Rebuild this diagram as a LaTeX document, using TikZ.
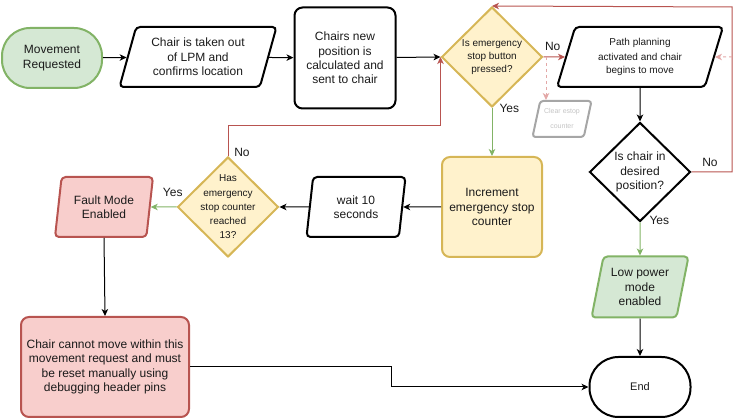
\documentclass[tikz,border=0pt]{standalone}
\usepackage{fontspec}
\setmainfont{Liberation Sans}
\usetikzlibrary{shapes.geometric,arrows.meta}
\definecolor{gfill}{HTML}{D5E8D4}
\definecolor{gline}{HTML}{82B366}
\definecolor{yfill}{HTML}{FFF2CC}
\definecolor{yline}{HTML}{D6B656}
\definecolor{rfill}{HTML}{F8CECC}
\definecolor{rline}{HTML}{B85450}
\definecolor{dline}{HTML}{E3A8A7}
\definecolor{cline}{HTML}{A6A6A6}
\definecolor{ctext}{HTML}{C4C4C4}
\definecolor{txt}{HTML}{1A1A1A}
\newcommand{\ftA}{\fontsize{12}{14.3}\selectfont}
\newcommand{\ftB}{\fontsize{10}{13}\selectfont}
\newcommand{\ftC}{\fontsize{10}{14.3}\selectfont}
\newcommand{\ftD}{\fontsize{7}{15}\selectfont}
\newcommand{\ftE}{\fontsize{11}{14}\selectfont}
\tikzset{
  shp/.style={draw, line width=2pt, align=center, inner sep=0pt, text=txt, font=\ftA},
  term/.style={shp, rounded corners=28pt, minimum height=60pt},
  proc/.style={shp, rounded corners=8pt},
  dec/.style={shp, diamond, minimum width=101pt, minimum height=100pt},
  para/.style={shp, trapezium, trapezium stretches body=true, rounded corners=4pt},
  conn/.style={line width=1pt, -{Stealth[length=7pt,width=6.5pt,inset=2pt]}},
  dconn/.style={conn, dline, dash pattern=on 3pt off 3pt},
  lbl/.style={font=\ftA, text=txt, inner sep=0pt}
}
\begin{document}
\begin{tikzpicture}[x=1pt,y=-1pt]
\useasboundingbox (0,0) rectangle (740,419);

% nodes
\node[term, fill=gfill, draw=gline, minimum width=100pt] (mr) at (52,58) {Movement\\Requested};
\node[para, trapezium left angle=66, trapezium right angle=114, minimum width=157pt, minimum height=60pt] (co) at (198,57) {Chair is taken out\\of LPM and\\confirms location};
\node[proc, minimum width=101pt, minimum height=101pt] (calc) at (345,58) {Chairs new\\position is\\calculated and\\sent to chair};
\node[dec, fill=yfill, draw=yline, label={[font=\ftB, align=center, text=txt]center:Is emergency\\stop button\\pressed?}] (d1) at (492,57) {};
\node[para, trapezium left angle=64, trapezium right angle=116, minimum width=166pt, minimum height=60pt, font=\ftB] (pp) at (640,57) {Path planning\\[2pt]activated and chair\\begins to move};
\node[para, draw=cline, text=ctext, font=\ftD, trapezium left angle=69, trapezium right angle=111, minimum width=59pt, minimum height=36pt, rounded corners=3pt] (clr) at (562,119) {Clear estop\\counter};
\node[dec, minimum height=99pt] (d2) at (640,172) {Is chair in\\desired\\position?};
\node[para, fill=gfill, draw=gline, trapezium left angle=72, trapezium right angle=108, minimum width=97pt, minimum height=61pt] (lp) at (640,287) {Low power\\mode\\enabled};
\node[term, minimum width=101pt, rounded corners=29pt, font=\ftE] (end) at (640,387) {End};
\node[proc, fill=yfill, draw=yline, minimum width=100pt, minimum height=100pt] (inc) at (492,207) {Increment\\emergency stop\\counter};
\node[para, trapezium left angle=74, trapezium right angle=106, minimum width=99pt, minimum height=60pt] (wait) at (356,207) {wait 10\\seconds};
\node[dec, fill=yfill, draw=yline, minimum width=101pt, label={[font=\ftC, align=center, text=txt]center:Has\\emergency\\stop counter\\reached\\13?}] (d3) at (228,207) {};
\node[para, fill=rfill, draw=rline, trapezium left angle=74, trapezium right angle=106, minimum width=98pt, minimum height=60pt] (fault) at (104,207) {Fault Mode\\Enabled};
\node[proc, fill=rfill, draw=rline, minimum width=168pt, minimum height=100pt, font=\ftA] (cm) at (105,367) {Chair cannot move within this\\movement request and must\\be reset manually using\\debugging header pins};

% helper coordinates
\coordinate (loop) at (732,7);
\coordinate (dstart) at (546,57);
\coordinate (dright) at (732,57);

% connectors
\draw[conn] (mr) -- (co);
\draw[conn] (co) -- (calc);
\draw[conn] (calc) -- (d1.west);
\draw[conn, rline] (d1.east) -- (pp.west) node[lbl, at start, anchor=south west, xshift=1pt, yshift=6pt] {No};
\draw[conn, gline] (d1.south) -- (inc.north) node[lbl, at start, anchor=north west, xshift=7pt, yshift=4pt] {Yes};
\draw[conn] (inc.west) -- (wait.east);
\draw[conn] (wait.west) -- (d3.east);
\draw[conn, gline] (d3.west) -- (fault.east) node[lbl, at start, anchor=south east, xshift=6.5pt, yshift=10pt] {Yes};
\draw[conn, rline] (d3.north) -- ++(0,-30) -| (d1.west);
\node[lbl] (no3) at (242,152) {No};
\draw[conn] (fault.south) -- (cm.north);
\draw[conn] (cm.east) -- ++(201,0) |- (end.west);
\draw[conn] (pp.south) -- (d2.north);
\draw[conn, gline] (d2.south) -- (lp.north) node[lbl, at start, anchor=north west, xshift=9pt, yshift=7pt] {Yes};
\draw[conn] (lp.south) -- (end.north);
\draw[conn, rline] (d2.east) -| (loop) -- (d1.north);
\node[lbl] (no2) at (710,162) {No};
\draw[dconn] (dstart) -- (dstart |- clr.north);
\draw[dconn] (dright) -- (pp.east);
\end{tikzpicture}
\end{document}
